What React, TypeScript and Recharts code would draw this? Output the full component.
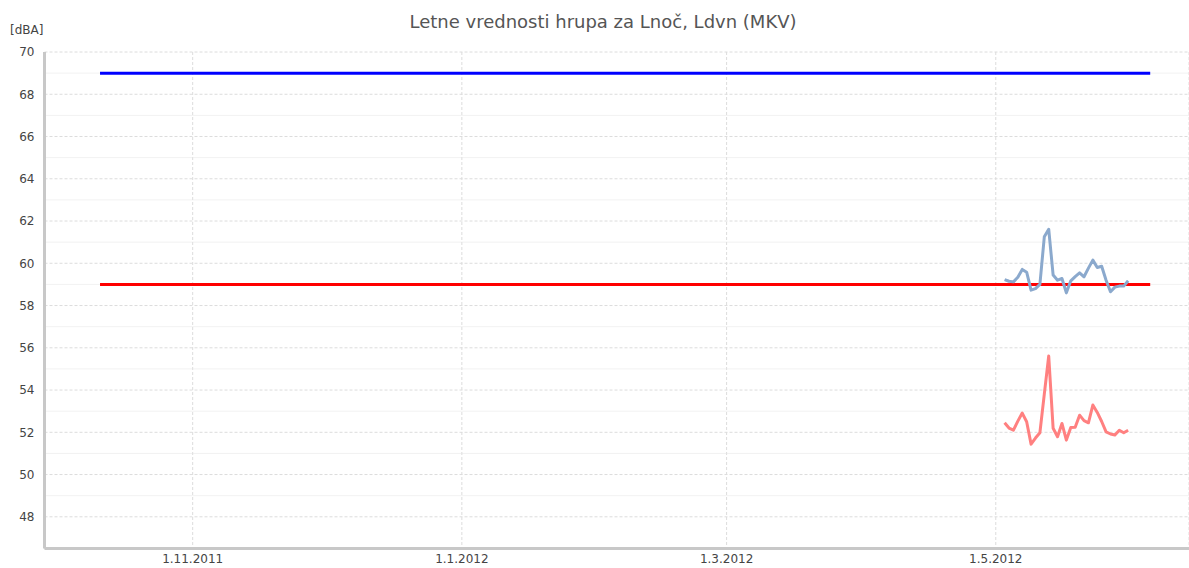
import { LineChart, Line, XAxis, YAxis, CartesianGrid, ReferenceLine } from "recharts"

// daily measurements, May 2012
const dayDates = [
  "2012-05-03", "2012-05-04", "2012-05-05", "2012-05-06", "2012-05-07",
  "2012-05-08", "2012-05-09", "2012-05-10", "2012-05-11", "2012-05-12",
  "2012-05-13", "2012-05-14", "2012-05-15", "2012-05-16", "2012-05-17",
  "2012-05-18", "2012-05-19", "2012-05-20", "2012-05-21", "2012-05-22",
  "2012-05-23", "2012-05-24", "2012-05-25", "2012-05-26", "2012-05-27",
  "2012-05-28", "2012-05-29", "2012-05-30", "2012-05-31",
]
const ldvnValues = [
  59.23, 59.15, 59.12, 59.34, 59.71, 59.58, 58.73, 58.8, 59.0, 61.25,
  61.61, 59.44, 59.2, 59.28, 58.6, 59.17, 59.37, 59.55, 59.36, 59.77,
  60.15, 59.8, 59.86, 59.2, 58.65, 58.87, 58.92, 58.92, 59.17,
]
const lnocValues = [
  52.45, 52.2, 52.1, 52.53, 52.91, 52.5, 51.44, 51.73, 51.98, 53.81,
  55.61, 52.19, 51.79, 52.42, 51.63, 52.23, 52.24, 52.81, 52.55, 52.45,
  53.29, 52.94, 52.51, 52.02, 51.92, 51.87, 52.1, 51.98, 52.1,
]

// limit values
const limitDates = ["2011-10-11", "2012-06-05"]
const ldvnLimit = [69, 69]
const lnocLimit = [59, 59]

const xTickDates = ["2011-11-01", "2012-01-01", "2012-03-01", "2012-05-01"]
const yTicks = [48, 50, 52, 54, 56, 58, 60, 62, 64, 66, 68, 70]
const yMinorTicks = [49, 51, 53, 55, 57, 59, 61, 63, 65, 67, 69]

const ts = (s: string) => new Date(s).getTime()

const ldvnData = dayDates.map((d, i) => ({ t: ts(d), v: ldvnValues[i] }))
const lnocData = dayDates.map((d, i) => ({ t: ts(d), v: lnocValues[i] }))
const ldvnLimitData = limitDates.map((d, i) => ({ t: ts(d), v: ldvnLimit[i] }))
const lnocLimitData = limitDates.map((d, i) => ({ t: ts(d), v: lnocLimit[i] }))
const xTicks = xTickDates.map(ts)

const xDomain = [Date.UTC(2011, 8, 28, 10), Date.UTC(2012, 5, 13, 19)]

const fmtDate = (t: number) => {
  const d = new Date(t)
  return `${d.getUTCDate()}.${d.getUTCMonth() + 1}.${d.getUTCFullYear()}`
}

const font = "'DejaVu Sans', Verdana, sans-serif"
const tickStyle = { fill: "#444", fontSize: 12, fontFamily: font }
const axisLine = { stroke: "#c8c8c8", strokeWidth: 3 }

export default function App() {
  return (
    <div style={{ position: "absolute", left: 0, top: 0, width: 1189, height: 568, background: "#fff" }}>
      <div
        style={{
          position: "absolute",
          left: 0,
          top: 11,
          width: 1206,
          textAlign: "center",
          fontFamily: font,
          fontSize: 18,
          color: "#555",
        }}
      >
        Letne vrednosti hrupa za Lnoč, Ldvn (MKV)
      </div>
      <div
        style={{
          position: "absolute",
          left: 10,
          top: 23,
          fontFamily: font,
          fontSize: 12,
          color: "#444",
        }}
      >
        [dBA]
      </div>
      <LineChart width={1189} height={568} margin={{ top: 52, right: 0, bottom: 0, left: 0 }}>
        <CartesianGrid stroke="#dcdcdc" strokeDasharray="3 2" />
        {yMinorTicks.map((v) => (
          <ReferenceLine key={v} y={v} stroke="#e4e4e4" strokeDasharray="1 1" />
        ))}
        <XAxis
          type="number"
          dataKey="t"
          domain={xDomain}
          ticks={xTicks}
          tickFormatter={fmtDate}
          allowDataOverflow
          height={19.5}
          tickLine={false}
          tickSize={0}
          tickMargin={6}
          axisLine={axisLine}
          tick={tickStyle}
        />
        <YAxis
          type="number"
          domain={[46.5, 70]}
          ticks={yTicks}
          allowDataOverflow
          width={44.5}
          tickLine={false}
          tickSize={0}
          tickMargin={10}
          axisLine={axisLine}
          tick={tickStyle}
        />
        <Line data={ldvnLimitData} dataKey="v" stroke="#0000ff" strokeWidth={3} dot={false} isAnimationActive={false} />
        <Line data={lnocLimitData} dataKey="v" stroke="#ff0000" strokeWidth={3} dot={false} isAnimationActive={false} />
        <Line data={ldvnData} dataKey="v" stroke="#8ba9cd" strokeWidth={3} strokeLinejoin="round" dot={false} isAnimationActive={false} />
        <Line data={lnocData} dataKey="v" stroke="#ff8080" strokeWidth={3} strokeLinejoin="round" dot={false} isAnimationActive={false} />
      </LineChart>
    </div>
  )
}
